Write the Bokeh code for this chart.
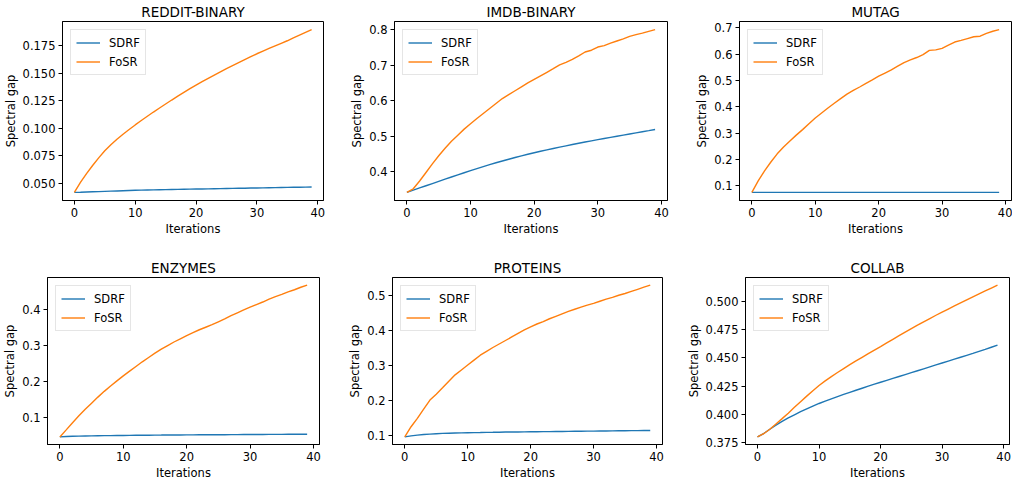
from bokeh.plotting import figure
from bokeh.layouts import column, row
from bokeh.models import Range1d, FixedTicker
from bokeh.embed import file_html
from bokeh.resources import INLINE

# ---------------- data ----------------
iterations = list(range(40))
x_ticks = [0, 10, 20, 30, 40]
x_tick_labels = ["0", "10", "20", "30", "40"]

titles = ["REDDIT-BINARY", "IMDB-BINARY", "MUTAG", "ENZYMES", "PROTEINS", "COLLAB"]
series_names = ["SDRF", "FoSR"]

reddit_sdrf = [.0418, .0419, .0421, .0423, .0425, .0427, .0429, .0431, .0433, .0435,
               .0437, .0438, .0440, .0441, .0442, .0443, .0444, .0445, .0446, .0447,
               .0448, .0449, .0450, .0451, .0452, .0453, .0454, .0455, .0456, .0457,
               .0458, .0459, .0460, .0461, .0462, .0463, .0464, .0465, .0466, .0467]
reddit_fosr = [.0418, .0508, .0588, .0662, .0731, .0795, .0850, .0900, .0946, .0989,
               .1030, .1070, .1109, .1147, .1184, .1220, .1256, .1291, .1325, .1359,
               .1392, .1423, .1453, .1483, .1512, .1541, .1569, .1596, .1623, .1650,
               .1676, .1700, .1724, .1748, .1771, .1794, .1820, .1845, .1870, .1895]

imdb_sdrf = [.3420, .3482, .3544, .3606, .3668, .3730, .3791, .3852, .3913, .3973,
             .4033, .4090, .4146, .4200, .4253, .4304, .4353, .4401, .4447, .4492,
             .4535, .4576, .4616, .4655, .4693, .4730, .4766, .4801, .4836, .4870,
             .4903, .4935, .4967, .4999, .5031, .5063, .5095, .5127, .5158, .5190]
imdb_fosr = [.342, .352, .374, .398, .422, .445, .466, .486, .503, .520,
             .535, .550, .564, .578, .592, .606, .617, .628, .639, .650,
             .660, .670, .680, .690, .701, .708, .716, .726, .737, .742,
             .751, .755, .762, .768, .774, .781, .786, .790, .795, .800]

mutag_sdrf = [.0745, .0745, .0745, .0745, .0745, .0745, .0745, .0745, .0745, .0745,
              .0745, .0745, .0745, .0745, .0745, .0745, .0745, .0745, .0745, .0745,
              .0745, .0745, .0745, .0745, .0745, .0745, .0745, .0745, .0745, .0745,
              .0745, .0745, .0745, .0745, .0745, .0745, .0745, .0745, .0745, .0745]
mutag_fosr = [.0745, .118, .156, .190, .221, .247, .270, .292, .313, .335,
              .357, .376, .395, .413, .431, .448, .462, .475, .489, .502,
              .516, .528, .540, .554, .568, .578, .587, .598, .614, .616,
              .622, .634, .646, .652, .659, .666, .668, .679, .687, .693]

enzymes_sdrf = [.0465, .0475, .0483, .0488, .0492, .0495, .0498, .0500, .0502, .0504,
                .0506, .0508, .0510, .0512, .0513, .0515, .0516, .0518, .0519, .0520,
                .0521, .0522, .0523, .0524, .0525, .0526, .0527, .0528, .0529, .0530,
                .0531, .0532, .0533, .0534, .0535, .0536, .0537, .0538, .0539, .0540]
enzymes_fosr = [.0465, .066, .086, .105, .123, .140, .157, .173, .188, .202,
                .216, .229, .242, .255, .267, .279, .290, .300, .310, .319,
                .328, .336, .344, .351, .358, .366, .374, .383, .391, .399,
                .407, .414, .421, .429, .436, .442, .449, .455, .462, .468]

proteins_sdrf = [.097, .100, .102, .104, .105, .106, .107, .1075, .108, .1085,
                 .109, .1093, .1096, .110, .1102, .1105, .1108, .111, .1112, .1114,
                 .1116, .1118, .112, .1122, .1124, .1126, .1128, .113, .1132, .1134,
                 .1136, .1138, .114, .1142, .1144, .1146, .1148, .115, .1152, .1154]
proteins_fosr = [.097, .126, .150, .176, .202, .219, .237, .256, .274, .288,
                 .302, .316, .330, .341, .352, .362, .372, .382, .392, .402,
                 .411, .419, .426, .434, .441, .448, .455, .461, .467, .473,
                 .478, .484, .490, .495, .501, .506, .512, .518, .524, .530]

collab_sdrf = [.3800, .3830, .3868, .3905, .3938, .3968, .3996, .4023, .4048, .4073,
               .4096, .4117, .4137, .4157, .4176, .4195, .4213, .4231, .4249, .4267,
               .4284, .4301, .4318, .4335, .4352, .4369, .4386, .4403, .4420, .4437,
               .4454, .4471, .4488, .4505, .4522, .4539, .4557, .4575, .4594, .4613]
collab_fosr = [.3800, .3828, .3868, .3915, .3962, .4010, .4062, .4112, .4161, .4209,
               .4255, .4296, .4334, .4370, .4405, .4440, .4473, .4505, .4537, .4569,
               .4600, .4632, .4664, .4696, .4728, .4759, .4789, .4819, .4848, .4877,
               .4905, .4932, .4959, .4986, .5013, .5040, .5066, .5092, .5118, .5144]

y_ticks = [
    [0.050, 0.075, 0.100, 0.125, 0.150, 0.175],
    [0.4, 0.5, 0.6, 0.7, 0.8],
    [0.1, 0.2, 0.3, 0.4, 0.5, 0.6, 0.7],
    [0.1, 0.2, 0.3, 0.4],
    [0.1, 0.2, 0.3, 0.4, 0.5],
    [0.375, 0.400, 0.425, 0.450, 0.475, 0.500],
]
y_tick_labels = [
    ["0.050", "0.075", "0.100", "0.125", "0.150", "0.175"],
    ["0.4", "0.5", "0.6", "0.7", "0.8"],
    ["0.1", "0.2", "0.3", "0.4", "0.5", "0.6", "0.7"],
    ["0.1", "0.2", "0.3", "0.4"],
    ["0.1", "0.2", "0.3", "0.4", "0.5"],
    ["0.375", "0.400", "0.425", "0.450", "0.475", "0.500"],
]

sdrf_all = [reddit_sdrf, imdb_sdrf, mutag_sdrf, enzymes_sdrf, proteins_sdrf, collab_sdrf]
fosr_all = [reddit_fosr, imdb_fosr, mutag_fosr, enzymes_fosr, proteins_fosr, collab_fosr]

# ---------------- layout / style ----------------
FONT = "DejaVu Sans"
BLUE = "#1f77b4"
ORANGE = "#ff7f0e"

# (width, height, left, right, top, bottom)
geom = [
    (337, 255, 62, 14, 20, 55),
    (345, 255, 57, 15, 20, 55),
    (330, 255, 57, 1, 20, 55),
    (332, 227, 45, 13, 22, 26),
    (350, 227, 60, 20, 22, 26),
    (330, 227, 63, 3, 22, 26),
]


def make_panel(i):
    w, h, bl, br, bt, bb = geom[i]
    s = sdrf_all[i]
    f = fosr_all[i]
    lo = min(min(s), min(f))
    hi = max(max(s), max(f))
    pad = 0.05 * (hi - lo)
    p = figure(width=w, height=h, output_backend="svg", toolbar_location=None,
               x_range=Range1d(-1.95, 40.95), y_range=Range1d(lo - pad, hi + pad),
               min_border_left=bl, min_border_right=br,
               min_border_top=bt, min_border_bottom=bb,
               title=titles[i])
    p.line(iterations, s, line_color=BLUE, line_width=1.4, legend_label=series_names[0])
    p.line(iterations, f, line_color=ORANGE, line_width=1.4, legend_label=series_names[1])

    p.title.text_font = FONT
    p.title.text_font_size = "13.5px"
    p.title.text_font_style = "normal"
    p.title.text_color = "black"
    p.title.align = "center"
    p.title.standoff = 3

    p.xgrid.grid_line_color = None
    p.ygrid.grid_line_color = None
    p.outline_line_color = "black"
    p.outline_line_width = 1
    p.background_fill_color = "white"
    p.border_fill_color = "white"

    p.xaxis.ticker = FixedTicker(ticks=x_ticks)
    p.xaxis.major_label_overrides = {t: l for t, l in zip(x_ticks, x_tick_labels)}
    p.yaxis.ticker = FixedTicker(ticks=y_ticks[i])
    p.yaxis.major_label_overrides = {t: l for t, l in zip(y_ticks[i], y_tick_labels[i])}
    p.xaxis.axis_label = "Iterations"
    p.yaxis.axis_label = "Spectral gap"
    for ax in (p.xaxis, p.yaxis):
        ax.axis_label_text_font = FONT
        ax.axis_label_text_font_size = "11.5px"
        ax.axis_label_text_font_style = "normal"
        ax.axis_label_text_color = "black"
        ax.axis_label_standoff = 2
        ax.major_label_text_font = FONT
        ax.major_label_text_font_size = "11.5px"
        ax.major_label_text_color = "black"
        ax.major_label_standoff = 3
        ax.major_tick_out = 4
        ax.major_tick_in = 0
        ax.minor_tick_out = 0
        ax.minor_tick_in = 0
        ax.axis_line_color = "black"
        ax.major_tick_line_color = "black"

    lg = p.legend[0]
    lg.location = "top_left"
    lg.margin = 8
    lg.padding = 5
    lg.spacing = 4
    lg.glyph_width = 24
    lg.glyph_height = 15
    lg.label_height = 15
    lg.label_standoff = 9
    lg.label_text_font = FONT
    lg.label_text_font_size = "11.5px"
    lg.label_text_color = "black"
    lg.border_line_color = "#cccccc"
    lg.border_line_width = 1
    lg.background_fill_alpha = 0.8
    return p


panels = [make_panel(i) for i in range(6)]
layout = column(row(*panels[:3]), row(*panels[3:]))

open("out.html", "w").write(file_html(layout, INLINE))
